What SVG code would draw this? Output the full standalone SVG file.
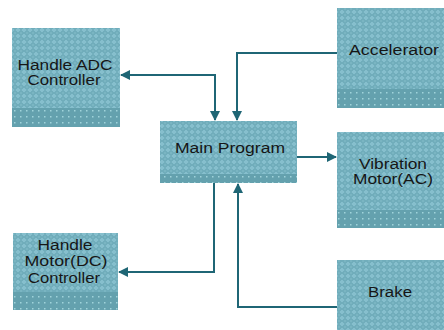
<svg xmlns="http://www.w3.org/2000/svg" width="444" height="330" viewBox="0 0 444 330">
  <defs>
    <!-- dithered tile texture for block bodies -->
    <pattern id="tex" width="6" height="6" patternUnits="userSpaceOnUse">
      <rect width="6" height="6" fill="#86bfcd"/>
      <path d="M3,0.5 L5.5,3 L3,5.5 L0.5,3 Z" fill="none" stroke="#5b9caa" stroke-width="1"/>
      <rect x="2.5" y="2.5" width="1" height="1" fill="#5796a4"/>
    </pattern>
    <!-- darker base band with a row of light dots -->
    <pattern id="band" width="6" height="6" patternUnits="userSpaceOnUse">
      <rect width="6" height="6" fill="#64a1ae"/>
      <rect x="2" y="2" width="1.5" height="1.5" fill="#9fd3da"/>
    </pattern>
    <marker id="arr" viewBox="0 0 10 10" refX="9" refY="5" markerWidth="5" markerHeight="5" orient="auto-start-reverse" markerUnits="strokeWidth">
      <path d="M0,0 L10,5 L0,10 Z" fill="#1f6675"/>
    </marker>
    <style>
      .body { fill: url(#tex); }
      .band { fill: url(#band); }
      .lbl { font-family: "Liberation Sans", Arial, sans-serif; font-size: 14px; fill: #161616; text-anchor: middle; }
      .wire { fill: none; stroke: #1f6675; stroke-width: 2; }
    </style>
  </defs>

  <rect width="444" height="330" fill="#ffffff"/>

  <g id="handle-adc">
    <rect class="body" x="12" y="28" width="108" height="99"/>
    <rect class="band" x="12" y="108" width="108" height="19"/>
    <text class="lbl" x="65" y="70" textLength="95" lengthAdjust="spacingAndGlyphs">Handle ADC</text>
    <text class="lbl" x="64" y="85" textLength="73" lengthAdjust="spacingAndGlyphs">Controller</text>
  </g>

  <g id="main-program">
    <rect class="body" x="160" y="121" width="137" height="62"/>
    <rect class="band" x="160" y="174" width="137" height="9"/>
    <text class="lbl" x="230" y="153" textLength="110" lengthAdjust="spacingAndGlyphs">Main Program</text>
  </g>

  <g id="accelerator">
    <rect class="body" x="337" y="8" width="107" height="100"/>
    <rect class="band" x="337" y="89" width="107" height="19"/>
    <text class="lbl" x="394" y="55" textLength="90" lengthAdjust="spacingAndGlyphs">Accelerator</text>
  </g>

  <g id="vibration-motor">
    <rect class="body" x="337" y="132" width="107" height="96"/>
    <rect class="band" x="337" y="210" width="107" height="18"/>
    <text class="lbl" x="393" y="169" textLength="68" lengthAdjust="spacingAndGlyphs">Vibration</text>
    <text class="lbl" x="393" y="184" textLength="80" lengthAdjust="spacingAndGlyphs">Motor(AC)</text>
  </g>

  <g id="handle-motor">
    <rect class="body" x="13" y="233" width="105" height="77"/>
    <rect class="band" x="13" y="292" width="105" height="18"/>
    <text class="lbl" x="65" y="250" textLength="55" lengthAdjust="spacingAndGlyphs">Handle</text>
    <text class="lbl" x="66" y="266" textLength="83" lengthAdjust="spacingAndGlyphs">Motor(DC)</text>
    <text class="lbl" x="64" y="283" textLength="72" lengthAdjust="spacingAndGlyphs">Controller</text>
  </g>

  <g id="brake">
    <rect class="body" x="337" y="260" width="107" height="70"/>
    <text class="lbl" x="390" y="297" textLength="44" lengthAdjust="spacingAndGlyphs">Brake</text>
  </g>

  <g id="connectors">
    <path class="wire" d="M121,75 H215 V120" marker-start="url(#arr)" marker-end="url(#arr)"/>
    <path class="wire" d="M337,53 H237 V120" marker-end="url(#arr)"/>
    <path class="wire" d="M297,157 H336" marker-end="url(#arr)"/>
    <path class="wire" d="M214,183 V272 H119" marker-end="url(#arr)"/>
    <path class="wire" d="M337,307 H238 V184" marker-end="url(#arr)"/>
  </g>
</svg>
